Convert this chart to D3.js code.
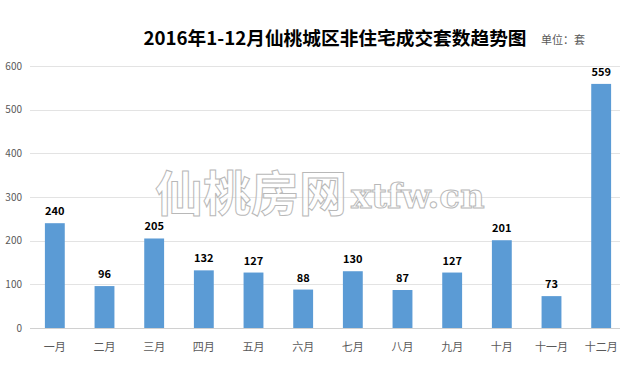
<!DOCTYPE html>
<html>
<head>
<meta charset="utf-8">
<script src="https://cdn.jsdelivr.net/npm/d3@7"></script>
<style>
    body { margin: 0; background: #fff; }
    text { font-family: "Microsoft YaHei", "Noto Sans CJK SC", sans-serif; }
</style>
</head>
<body>
<svg id="chart" width="626" height="383"></svg>
<script>
    var months = ['一月', '二月', '三月', '四月', '五月', '六月', '七月', '八月', '九月', '十月', '十一月', '十二月'];
    var sales = [240, 96, 205, 132, 127, 88, 130, 87, 127, 201, 73, 559];
    var yTicks = [0, 100, 200, 300, 400, 500, 600];

    (function () {
        var svg = d3.select('#chart'),
            plotLeft = 30, plotRight = 626, plotTop = 66, plotBottom = 328;

        var x = d3.scaleBand()
            .domain(months)
            .range([plotLeft, plotRight])
            .paddingInner(0.6)
            .paddingOuter(0.3);

        var y = d3.scaleLinear()
            .domain([0, 600])
            .range([plotBottom, plotTop]);

        // gridlines
        svg.append('g')
            .selectAll('line')
            .data(yTicks)
            .enter()
            .append('line')
            .attr('x1', plotLeft)
            .attr('x2', 620)
            .attr('y1', function (d) { return Math.round(y(d)) + 0.5; })
            .attr('y2', function (d) { return Math.round(y(d)) + 0.5; })
            .attr('stroke', function (d) { return d === 0 ? '#d0d0d0' : '#e3e3e3'; })
            .attr('stroke-width', 1);

        var yAxis = svg.append('g')
            .attr('transform', 'translate(' + (plotLeft - 8) + ',0)')
            .call(d3.axisLeft(y).tickValues(yTicks).tickSize(0).tickPadding(0));
        yAxis.select('.domain').remove();
        yAxis.selectAll('text')
            .attr('fill', '#595959')
            .style('font-size', '10px');

        // watermark
        svg.append('text')
            .attr('x', 155)
            .attr('y', 211)
            .attr('fill', '#fff')
            .attr('fill-opacity', 0.6)
            .attr('stroke', '#b8b8b8')
            .attr('stroke-width', 1)
            .style('font-size', '48px')
            .style('font-weight', 'bold')
            .text('仙桃房网');
        svg.append('text')
            .attr('x', 351)
            .attr('y', 208)
            .attr('fill', '#fff')
            .attr('fill-opacity', 0.6)
            .attr('stroke', '#b8b8b8')
            .attr('stroke-width', 1)
            .style('font-family', '"DejaVu Serif", serif')
            .style('font-size', '34px')
            .style('font-weight', 'bold')
            .text('xtfw.cn');

        // bars
        svg.append('g')
            .selectAll('rect')
            .data(sales)
            .enter()
            .append('rect')
            .attr('x', function (d, i) { return x(months[i]); })
            .attr('y', function (d) { return y(d); })
            .attr('width', x.bandwidth())
            .attr('height', function (d) { return plotBottom - y(d); })
            .attr('fill', '#5b9bd5');

        svg.append('g')
            .selectAll('text')
            .data(sales)
            .enter()
            .append('text')
            .attr('x', function (d, i) { return x(months[i]) + x.bandwidth() / 2; })
            .attr('y', function (d) { return y(d) - 8; })
            .attr('text-anchor', 'middle')
            .attr('fill', '#000')
            .style('font-size', '11px')
            .style('font-weight', 'bold')
            .text(function (d) { return d; });

        var xAxis = svg.append('g')
            .attr('transform', 'translate(0,' + plotBottom + ')')
            .call(d3.axisBottom(x).tickSize(0).tickPadding(15));
        xAxis.select('.domain').remove();
        xAxis.selectAll('text')
            .attr('fill', '#595959')
            .style('font-size', '11px');

        // title
        svg.append('text')
            .attr('x', 335)
            .attr('y', 45)
            .attr('text-anchor', 'middle')
            .attr('fill', '#000')
            .style('font-size', '18.7px')
            .style('font-weight', 'bold')
            .text('2016年1-12月仙桃城区非住宅成交套数趋势图');

        svg.append('text')
            .attr('x', 541)
            .attr('y', 44)
            .attr('fill', '#595959')
            .style('font-size', '11px')
            .text('单位：套');
    })();
</script>
</body>
</html>
